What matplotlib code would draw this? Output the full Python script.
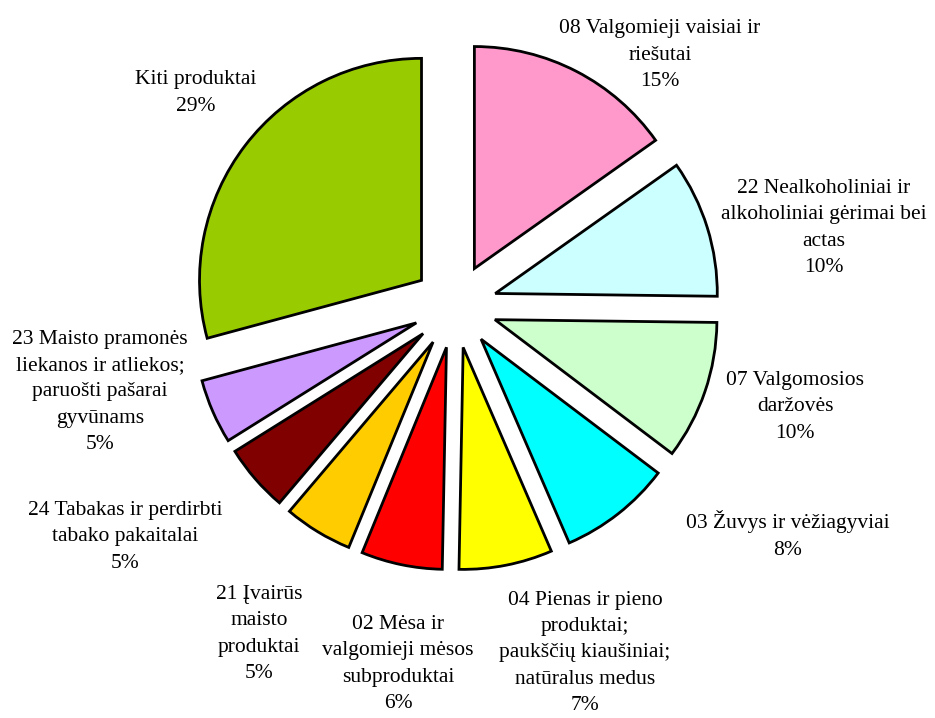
import matplotlib
matplotlib.use("Agg")
import matplotlib.pyplot as plt

# ---- data ----
categories = [
    "08 Valgomieji vaisiai ir\nriešutai",
    "22 Nealkoholiniai ir\nalkoholiniai gėrimai bei\nactas",
    "07 Valgomosios\ndaržovės",
    "03 Žuvys ir vėžiagyviai",
    "04 Pienas ir pieno\nproduktai;\npaukščių kiaušiniai;\nnatūralus medus",
    "02 Mėsa ir\nvalgomieji mėsos\nsubproduktai",
    "21 Įvairūs\nmaisto\nproduktai",
    "24 Tabakas ir perdirbti\ntabako pakaitalai",
    "23 Maisto pramonės\nliekanos ir atliekos;\nparuošti pašarai\ngyvūnams",
    "Kiti produktai",
]
shares = [15.2, 10.0, 10.1, 8.2, 6.8, 5.9, 5.0, 4.9, 4.7, 29.2]
colors = ["#FF99CC", "#CCFFFF", "#CCFFCC", "#00FFFF", "#FFFF00",
          "#FF0000", "#FFCC00", "#800000", "#CC99FF", "#99CC00"]

# ---- layout: label centres in figure pixels (from top-left) ----
label_px = [(660, 55), (824, 228), (795, 407), (788, 535),
            (585, 653), (398, 664), (259, 634),
            (125, 537), (100, 392), (196, 93)]

W, H = 935, 718
cx, cy, R = 455, 306, 222

fig = plt.figure(figsize=(W / 100, H / 100), dpi=100)
ax = fig.add_axes([0, 0, 1, 1])

ax.pie(shares, colors=colors, startangle=90, counterclock=False,
       explode=[0.19] * len(shares), radius=1.0, frame=True,
       wedgeprops=dict(edgecolor="black", linewidth=2.0))
ax.set_xlim(-cx / R, (W - cx) / R)
ax.set_ylim(-(H - cy) / R, cy / R)
ax.set_aspect("equal")
ax.axis("off")

for cat, val, (px, py) in zip(categories, shares, label_px):
    ax.text((px - cx) / R, (cy - py) / R, f"{cat}\n{round(val):d}%",
            ha="center", va="center",
            fontsize=15.5, family="Liberation Serif", linespacing=1.52,
            color="black")

fig.savefig("out.png", dpi=100)
